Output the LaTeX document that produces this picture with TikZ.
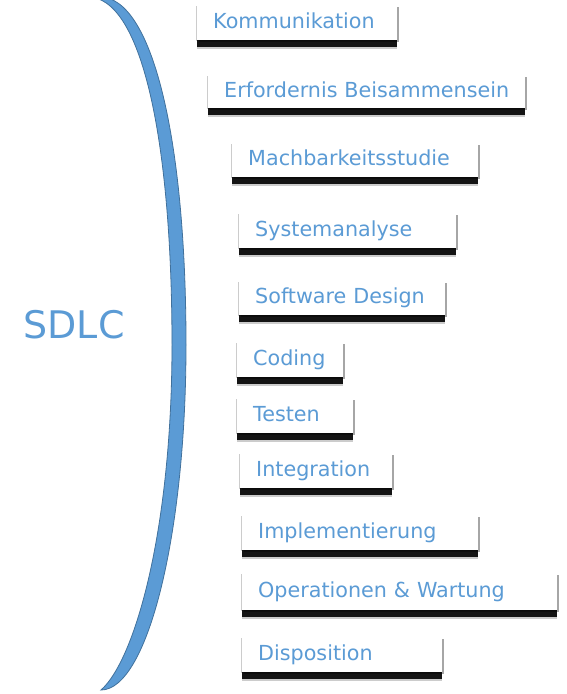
\documentclass[tikz,border=0pt]{standalone}
\usepackage{fontspec}
\setmainfont{DejaVu Sans}
\usetikzlibrary{shadows}
\hyphenpenalty=10000
\definecolor{sdlcblue}{HTML}{5B9BD5}
\definecolor{sdlcedge}{HTML}{41719C}
\tikzset{
	phase/.style={anchor=north west, fill=white, text=sdlcblue,
		font=\fontsize{20.7}{24}\selectfont, align=left, inner xsep=16pt,
		inner ysep=2pt, text height=15pt, text depth=4pt, text width=#1,
		general shadow={fill=black, opacity=0.2, shadow xshift=-1pt, shadow yshift=-1pt},
		general shadow={fill=black, opacity=0.35, shadow xshift=2pt, shadow yshift=-2pt},
		general shadow={fill=black, opacity=0.2, shadow xshift=0pt, shadow yshift=-9pt},
		general shadow={fill=black, opacity=0.9, shadow xshift=0pt, shadow yshift=-7pt}},
	bracket/.style={fill=sdlcblue, draw=sdlcedge, line width=0.8pt}
}

\begin{document}
\begin{tikzpicture}[x=1pt,y=-1pt]
		\useasboundingbox (0,0) rectangle (566,694);
		% bracket: top end runs off the page, bottom end is pointed
		\coordinate (T) at (100,-3);
		\coordinate (Ti) at (88,-3);
		\coordinate (M) at (186,345);
		\coordinate (Mi) at (172,345);
		\coordinate (U) at (101,690);
		\draw[bracket] (T) .. controls (151.6,-3) and (186,136) .. (M)
			.. controls (186,535) and (147.3,690) .. (U)
			.. controls (135,660) and (172,530) .. (Mi)
			.. controls (172,136) and (140.8,-3) .. (Ti) -- cycle;
		\node[text=sdlcblue, font=\fontsize{38}{44}\selectfont] (sdlc) at (74,325) {SDLC};
		\node[phase=168pt, minimum height=35pt] (komm) at (197,5) {Kommunikation};
		\node[phase=285pt, minimum height=33pt] (erford) at (208,75) {Erfordernis~Beisammensein};
		\node[phase=214pt, minimum height=34pt] (machb) at (232,143) {Machbarkeitsstudie};
		\node[phase=185pt, minimum height=35pt] (sysana) at (239,213) {Systemanalyse};
		\node[phase=174pt, minimum height=34pt] (swdes) at (239,281) {Software~Design};
		\node[phase=74pt, minimum height=35pt] (coding) at (237,342) {Coding};
		\node[phase=84pt, minimum height=35pt] (testen) at (237,398) {Testen};
		\node[phase=120pt, minimum height=35pt] (integ) at (240,453) {Integration};
		\node[phase=204pt, minimum height=35pt] (impl) at (242,515) {Implementierung};
		\node[phase=283pt, minimum height=37pt] (opwart) at (242,573) {Operationen~\&~Wartung};
		\node[phase=168pt, minimum height=35pt] (dispo) at (242,637) {Disposition};
\end{tikzpicture}
\end{document}
